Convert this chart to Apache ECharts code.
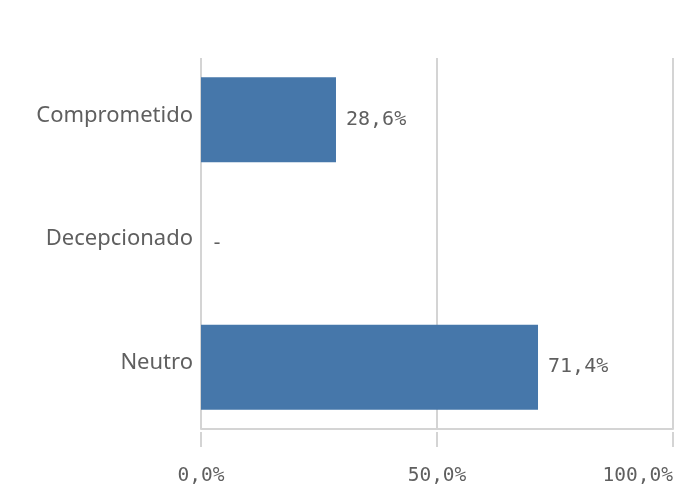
<!DOCTYPE html>
<html>
<head>
<meta charset="utf-8">
<script src="https://cdn.jsdelivr.net/npm/echarts@6/dist/echarts.min.js"></script>
<style>html,body{margin:0;padding:0;background:#fff;}#c{width:688px;height:491px;}</style>
</head>
<body>
<div id="c"></div>
<script>
const categories = ["Comprometido", "Decepcionado", "Neutro"];
const values = [28.6, 0, 71.4];
const xTicks = [0, 50, 100];

const fmtPct = v => v.toFixed(1).replace('.', ',') + '%';
const chart = echarts.init(document.getElementById('c'));
const gridColor = '#d4d4d4';
const textColor = '#5f5f5f';
const monoFont = '"DejaVu Sans Mono", monospace';

chart.setOption({
  animation: false,
  grid: { left: 201, right: 15, top: 58, bottom: 62, outerBoundsMode: 'none', containLabel: false },
  xAxis: [
    {
      type: 'value', min: xTicks[0], max: xTicks[xTicks.length - 1], interval: 50,
      position: 'bottom',
      axisLine: { show: true, lineStyle: { color: gridColor, width: 2 } },
      axisTick: { show: false },
      axisLabel: { show: false },
      splitLine: { show: true, lineStyle: { color: gridColor, width: 2 } }
    },
    {
      type: 'value', min: xTicks[0], max: xTicks[xTicks.length - 1], interval: 50,
      position: 'bottom', offset: 3,
      axisLine: { show: true, onZero: false, lineStyle: { color: '#ffffff', width: 1 } },
      axisTick: { show: true, inside: false, length: 15, lineStyle: { color: gridColor, width: 2 } },
      axisLabel: { show: true, margin: 34, color: textColor, fontFamily: monoFont, fontSize: 19.5,
        alignMaxLabel: 'right', formatter: v => fmtPct(v) },
      splitLine: { show: false }
    }
  ],
  yAxis: {
    type: 'category', data: categories, inverse: true,
    axisLine: { show: false }, axisTick: { show: false },
    axisLabel: { margin: 8, color: textColor, fontFamily: '"Noto Sans", sans-serif', fontSize: 22,
      verticalAlign: 'bottom', lineHeight: 9 }
  },
  series: [{
    type: 'bar', xAxisIndex: 0, data: values, barWidth: 85,
    itemStyle: { color: '#4677AA' },
    label: {
      show: true, position: 'right', distance: 10, color: textColor,
      fontFamily: monoFont, fontSize: 20,
      formatter: p => p.value === 0 ? '-' : fmtPct(p.value)
    }
  }]
});
</script>
</body>
</html>
